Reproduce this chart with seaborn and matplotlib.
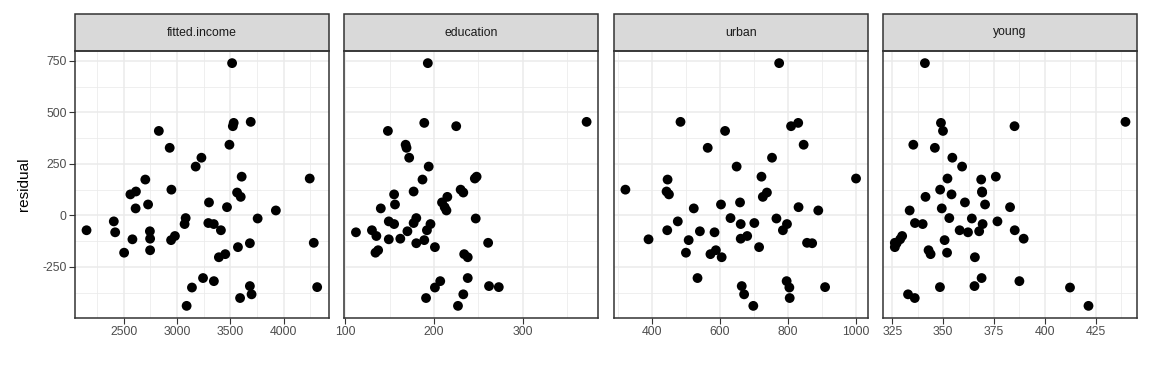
import numpy as np
import pandas as pd
import matplotlib
matplotlib.use("Agg")
import matplotlib.pyplot as plt
import seaborn as sns
from matplotlib.patches import Rectangle
from matplotlib.ticker import FixedLocator

# one entry per state, residuals and fitted values
states = ["ME", "NH", "VT", "MA", "RI", "CT", "NY", "NJ", "PA", "OH", "IN", "IL", "MI",
          "WI", "MN", "IA", "MO", "ND", "SD", "NE", "KS", "DE", "MD", "DC", "VA", "WV",
          "NC", "SC", "GA", "FL", "KY", "TN", "AL", "MS", "AR", "LA", "OK", "TX", "MT",
          "ID", "WY", "CO", "NM", "AZ", "UT", "NV", "WA", "OR", "CA", "AK", "HI"]
education = [189, 169, 230, 168, 180, 193, 261, 214, 201, 172, 194, 189, 233,
             209, 262, 234, 177, 177, 187, 148, 196, 248, 247, 246, 180, 149,
             155, 149, 156, 191, 140, 137, 112, 130, 134, 162, 135, 155, 238,
             170, 238, 192, 227, 207, 201, 225, 215, 233, 273, 372, 212]
urban = [508, 564, 322, 846, 871, 774, 856, 889, 715, 753, 649, 830, 738,
         659, 664, 572, 701, 443, 446, 615, 661, 722, 766, 1000, 631, 390,
         450, 476, 603, 805, 523, 588, 584, 445, 500, 661, 680, 797, 534,
         541, 605, 785, 698, 796, 804, 809, 726, 671, 909, 484, 831]
young = [350.7, 345.9, 348.5, 335.3, 327.1, 341.0, 326.2, 333.5, 326.2, 354.5, 359.3, 348.9, 369.2,
         360.7, 365.4, 343.8, 336.1, 369.1, 368.7, 349.9, 339.9, 375.9, 364.1, 352.1, 353.0, 328.8,
         354.1, 376.7, 370.6, 336.0, 349.3, 342.8, 362.2, 385.2, 351.9, 389.6, 329.8, 369.4, 368.9,
         367.7, 365.6, 358.1, 421.5, 387.5, 412.4, 385.1, 341.3, 332.7, 348.4, 439.7, 382.9]
fitted_income = [2944, 2931, 2947, 3492, 3684, 3517, 4284, 3928, 3572, 3229, 3175, 3532, 3564,
                 3300, 3684, 3453, 3294, 2614, 2702, 2829, 3345, 3607, 3757, 4246, 3081, 2581,
                 2562, 2406, 2728, 3592, 2611, 2747, 2419, 2150, 2503, 2747, 2980, 3071, 3244,
                 2745, 3393, 3412, 3090, 3346, 3140, 3524, 3598, 3700, 4316, 3692, 3469]
residual = [-120, 328, 125, 343, -135, 739, -133, 24, -154, 280, 237, 449, 111,
            63, -343, -188, -37, 116, 174, 410, -42, 188, -15, 179, -13, -116,
            102, -29, 53, -401, 34, -169, -82, -72, -181, -113, -100, -42, -304,
            -77, -203, -72, -439, -319, -350, 433, 90, -383, -348, 454, 40]

panels = ["fitted.income", "education", "urban", "young"]
major_ticks = {
    "fitted.income": [2500, 3000, 3500, 4000],
    "education": [100, 200, 300],
    "urban": [400, 600, 800, 1000],
    "young": [325, 350, 375, 400, 425],
}
y_major = [-250, 0, 250, 500, 750]

df = pd.DataFrame({"state": states, "fitted.income": fitted_income, "education": education,
                   "urban": urban, "young": young, "residual": residual})
long_df = df.melt(id_vars=["state", "residual"], value_vars=panels,
                  var_name="variable", value_name="value")

plt.rcParams["font.family"] = ["Liberation Sans", "DejaVu Sans"]
plt.rcParams["axes.unicode_minus"] = False

fig, axes = plt.subplots(1, 4, figsize=(11.52, 3.84), dpi=100, sharey=True)
fig.subplots_adjust(left=75 / 1152, right=1137 / 1152, bottom=1 - 318 / 384,
                    top=1 - 51 / 384, wspace=0.062)

def expand(vals, frac=0.05):
    lo, hi = min(vals), max(vals)
    pad = (hi - lo) * frac
    return lo - pad, hi + pad

strip_h = 37 / 267
ylo, yhi = expand(residual)

for i, (ax, name) in enumerate(zip(axes, panels)):
    sub = long_df[long_df["variable"] == name]
    sns.scatterplot(data=sub, x="value", y="residual", ax=ax, color="black",
                    s=50, edgecolor="none", zorder=3)
    ax.set_xlim(*expand(sub["value"].tolist()))
    ax.set_ylim(ylo, yhi)

    mt = major_ticks[name]
    step = mt[1] - mt[0]
    minors = [t - step / 2 for t in mt] + [mt[-1] + step / 2]
    ax.xaxis.set_major_locator(FixedLocator(mt))
    ax.xaxis.set_minor_locator(FixedLocator(minors))
    ax.yaxis.set_major_locator(FixedLocator(y_major))
    ax.yaxis.set_minor_locator(FixedLocator([-375, -125, 125, 375, 625]))

    ax.set_facecolor("white")
    ax.grid(which="major", color="#EBEBEB", linewidth=1.1, zorder=0)
    ax.grid(which="minor", color="#EBEBEB", linewidth=0.55, zorder=0)
    ax.set_axisbelow(True)
    for sp in ax.spines.values():
        sp.set_color("#333333")
        sp.set_linewidth(1.1)
    ax.tick_params(which="major", length=4, width=0.8, color="#333333",
                   labelcolor="#4D4D4D", labelsize=8.8, pad=2)
    ax.tick_params(which="minor", length=0)
    if i > 0:
        ax.tick_params(axis="y", which="both", left=False, labelleft=False)
    ax.set_xlabel("")
    ax.set_ylabel("")

    ax.add_patch(Rectangle((0, 1), 1, strip_h, transform=ax.transAxes, clip_on=False,
                           facecolor="#D9D9D9", edgecolor="#333333", linewidth=1.1))
    ax.text(0.5, 1 + strip_h / 2, name, transform=ax.transAxes, ha="center",
            va="center", fontsize=8.8, color="#1A1A1A")

axes[0].set_ylabel("residual", fontsize=11, color="black", labelpad=8)

fig.savefig("out.png", dpi=100)
